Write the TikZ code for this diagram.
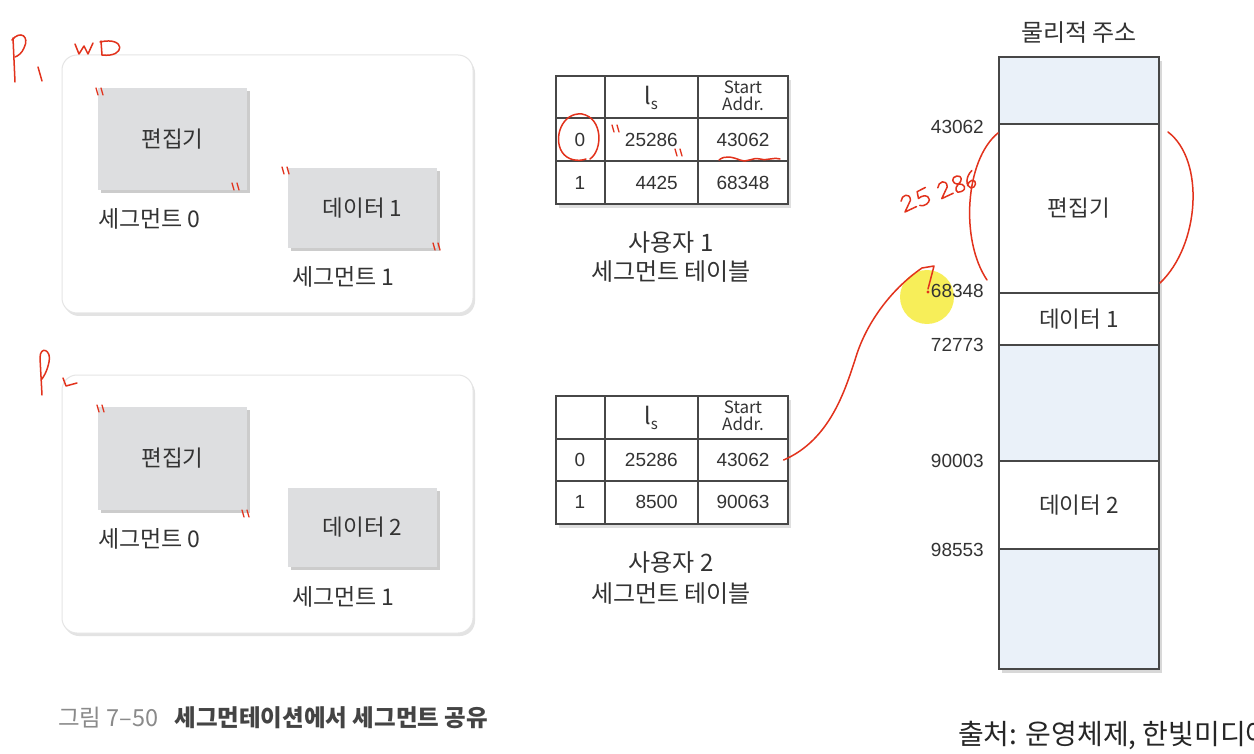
\documentclass[tikz,border=0pt]{standalone}
\usepackage{fontspec}
\setmainfont{Noto Sans CJK KR}
\newfontfamily\numf{Liberation Sans}
\usetikzlibrary{shadows}
\definecolor{txt}{HTML}{333333}
\definecolor{boxgray}{HTML}{DDDEE0}
\definecolor{memblue}{HTML}{EAF1F9}
\definecolor{tline}{HTML}{474747}
\definecolor{pen}{HTML}{E2321C}
\definecolor{hilite}{HTML}{F6EC3C}
\definecolor{capgray}{HTML}{8A8A8A}
\definecolor{capdark}{HTML}{444444}
\newcommand\fsz[1]{\fontsize{#1}{#1}\selectfont}
\newcommand\inkmark[2]{\draw[ink, line width=1.3pt] (#1,#2) -- ++(2,7) (#1+5,#2) -- ++(2,7);}
\newcommand\dtwo{\draw[ink] (0,-10) .. controls (2,-15) and (10,-15) .. (8,-8) -- (0,0) -- (11,-1);}
\newcommand\dfive{\draw[ink] (10,-14) -- (2,-13) -- (1,-7) .. controls (8,-10) and (14,-3) .. (6,0) .. controls (4,1) and (1,0) .. (0,-1);}
\newcommand\deight{\draw[ink] (5,-7) .. controls (-1,-9) and (1,-15) .. (6,-14) .. controls (11,-13) and (9,-8) .. (5,-7) .. controls (0,-5) and (0,1) .. (5,0) .. controls (11,0) and (10,-6) .. (5,-7);}
\newcommand\dsix{\draw[ink] (9,-14) .. controls (2,-11) and (-1,-3) .. (3,0) .. controls (7,2) and (11,-5) .. (6,-6) .. controls (4,-6) and (2,-5) .. (1,-3);}
\begin{document}
\begin{tikzpicture}[x=1pt,y=-1pt,
  panel/.style={draw=black!10, line width=1pt, fill=white, rounded corners=15pt, anchor=north west,
    minimum width=411pt, minimum height=258pt, inner sep=0, outer sep=0,
    drop shadow={shadow xshift=2pt, shadow yshift=-3pt, opacity=0.22}},
  segbox/.style={fill=boxgray, anchor=north west, minimum width=149pt, inner sep=0, outer sep=0,
    text=txt, font=\fsz{22.5}, drop shadow={shadow xshift=3pt, shadow yshift=-3pt, opacity=0.4}},
  seglbl/.style={anchor=west, inner sep=0, text=txt, font=\fsz{23}},
  tbl/.style={draw=tline, line width=1.5pt, fill=white, anchor=north west, inner sep=0, outer sep=0,
    minimum width=232pt, minimum height=128pt,
    drop shadow={shadow xshift=3pt, shadow yshift=-4pt, opacity=0.25}},
  tgrid/.style={draw=tline, line width=1.5pt},
  cell/.style={inner sep=0, text=txt, font=\numf\fsz{19}},
  hdr/.style={inner sep=0, text=txt, font=\fontsize{17}{17.5}\selectfont, align=center},
  tcap/.style={inner sep=0, text=txt, font=\fsz{24}, align=center},
  memall/.style={fill=memblue, anchor=north west, inner sep=0, outer sep=0, minimum width=160pt,
    drop shadow={shadow xshift=3pt, shadow yshift=-4pt, opacity=0.3}},
  memreg/.style={draw=tline, line width=1.3pt, anchor=north west, inner sep=0, outer sep=0,
    minimum width=160pt, text=txt, font=\fsz{22.5}},
  addr/.style={anchor=east, inner sep=0, text=txt, font=\numf\fsz{19}},
  ink/.style={draw=pen, line width=1.5pt, line cap=round, line join=round}]

\fill[white] (0,0) rectangle (1254,754);
\useasboundingbox (0,0) rectangle (1254,754);

% ---------- process panels ----------
\node[panel] (p1) at (62,55) {};
\node[segbox, minimum height=102pt] (p1s0) at (98,88) {편집기};
\node[seglbl] (p1l0) at (98,219) {세그먼트 0};
\node[segbox, minimum height=80pt] (p1s1) at (288,168) {데이터 1};
\node[seglbl] (p1l1) at (292,277) {세그먼트 1};

\node[panel] (p2) at (62,375) {};
\node[segbox, minimum height=103pt] (p2s0) at (98,407) {편집기};
\node[seglbl] (p2l0) at (98,539) {세그먼트 0};
\node[segbox, minimum height=79pt] (p2s1) at (288,488) {데이터 2};
\node[seglbl] (p2l1) at (292,597) {세그먼트 1};

% ---------- segment table 1 ----------
\node[tbl] (t1) at (556,76) {};
\draw[tgrid] (605,76) -- (605,204) (698,76) -- (698,204) (556,118) -- (788,118) (556,161) -- (788,161);
\node[hdr] (t1h1) at (651,98) {\fsz{23}l\raisebox{-5pt}{\fsz{15}s}};
\node[hdr] (t1h2) at (743,96) {Start\\Addr.};
\node[cell] (t1a0) at (580,140) {0};
\node[cell, anchor=east] (t1b0) at (678,140) {25286};
\node[cell] (t1c0) at (743,140) {43062};
\node[cell] (t1a1) at (580,183) {1};
\node[cell, anchor=east] (t1b1) at (678,183) {4425};
\node[cell] (t1c1) at (743,183) {68348};
\node[tcap] (t1cap) at (671,243) {사용자 1};
\node[tcap] (t1cap2) at (671,272) {세그먼트 테이블};

% ---------- segment table 2 ----------
\node[tbl] (t2) at (556,396) {};
\draw[tgrid] (605,396) -- (605,524) (698,396) -- (698,524) (556,439) -- (789,439) (556,481) -- (789,481);
\node[hdr] (t2h1) at (651,418) {\fsz{23}l\raisebox{-5pt}{\fsz{15}s}};
\node[hdr] (t2h2) at (743,416) {Start\\Addr.};
\node[cell] (t2a0) at (580,460) {0};
\node[cell, anchor=east] (t2b0) at (678,460) {25286};
\node[cell] (t2c0) at (743,460) {43062};
\node[cell] (t2a1) at (580,502) {1};
\node[cell, anchor=east] (t2b1) at (678,502) {8500};
\node[cell] (t2c1) at (743,502) {90063};
\node[tcap] (t2cap) at (671,563) {사용자 2};
\node[tcap] (t2cap2) at (671,594) {세그먼트 테이블};

% ---------- physical memory ----------
\node[inner sep=0, text=txt, font=\fsz{24}] (memtitle) at (1079,33) {물리적 주소};
\node[memall, minimum height=612pt] (mem) at (999,57) {};
\node[memreg, minimum height=67pt] (m0) at (999,57) {};
\node[memreg, fill=white, minimum height=169pt] (m1) at (999,124) {편집기};
\node[memreg, fill=white, minimum height=52pt] (m2) at (999,293) {데이터 1};
\node[memreg, minimum height=116pt] (m3) at (999,345) {};
\node[memreg, fill=white, minimum height=88pt] (m4) at (999,461) {데이터 2};
\node[memreg, minimum height=120pt] (m5) at (999,549) {};

\fill[hilite, opacity=0.85] (927,297) circle (27);

\node[addr] (a1) at (984,127) {43062};
\node[addr] (a2) at (984,291) {68348};
\node[addr] (a3) at (984,345) {72773};
\node[addr] (a4) at (984,461) {90003};
\node[addr] (a5) at (984,550) {98553};

% ---------- captions ----------
\node[anchor=west, inner sep=0, font=\fsz{23.5}] (figcap) at (58,718)
  {\textcolor{capgray}{그림 7–50}\hspace{16pt}\textcolor{capdark}{\bfseries 세그먼테이션에서 세그먼트 공유}};
\node[anchor=west, inner sep=0, font=\fsz{28}, text=black!85] (src) at (958,736) {출처: 운영체제, 한빛미디어};

% ---------- handwritten annotations ----------
\draw[ink] (13,38) -- (15,82);
\draw[ink] (12,40) .. controls (20,30) and (30,36) .. (24,48) .. controls (22,53) and (18,56) .. (15,57);
\draw[ink] (38,67) -- (42,81);
\draw[ink] (75,44) -- (79,54) -- (84,46) -- (88,54) -- (93,43);
\draw[ink] (101,41) -- (102,55);
\draw[ink] (100,42) .. controls (126,36) and (126,58) .. (102,55);

\draw[ink] (42,395) -- (40,358) .. controls (40,345) and (52,350) .. (49,362) .. controls (47,372) and (43,378) .. (41,380);
\draw[ink] (63,378) -- (66,386) -- (77,383);

\inkmark{96}{88}
\inkmark{232}{183}
\inkmark{282}{167}
\inkmark{433}{243}
\inkmark{97}{405}
\inkmark{242}{510}
\inkmark{612}{125}
\inkmark{675}{149}

\draw[ink] (590,159) .. controls (603,150) and (603,118) .. (582,114) .. controls (562,112) and (553,138) .. (562,152) .. controls (567,160) and (578,162) .. (586,159);
\draw[ink] (719,160) .. controls (725,155) and (732,157) .. (740,160) .. controls (748,163) and (752,157) .. (760,159) .. controls (768,161) and (772,157) .. (780,159);

\draw[ink] (998,133) .. controls (965,160) and (960,240) .. (987,280);
\draw[ink] (1168,132) .. controls (1205,160) and (1200,245) .. (1160,283);

\begin{scope}[shift={(905,212)}, rotate=20, scale=1.15]
  \dtwo
  \begin{scope}[shift={(14,0)}]\dfive\end{scope}
  \begin{scope}[shift={(34,0)}]\dtwo\end{scope}
  \begin{scope}[shift={(47,0)}]\deight\end{scope}
  \begin{scope}[shift={(58,0)}]\dsix\end{scope}
\end{scope}

\draw[ink] ([xshift=14pt]t2c0.east) .. controls (830,440) and (845,390) .. (855,360)
  .. controls (865,325) and (890,290) .. (922,268) -- (934,266) -- (928,289);
\fill[pen] (928,292) circle (1.6);

\end{tikzpicture}
\end{document}
